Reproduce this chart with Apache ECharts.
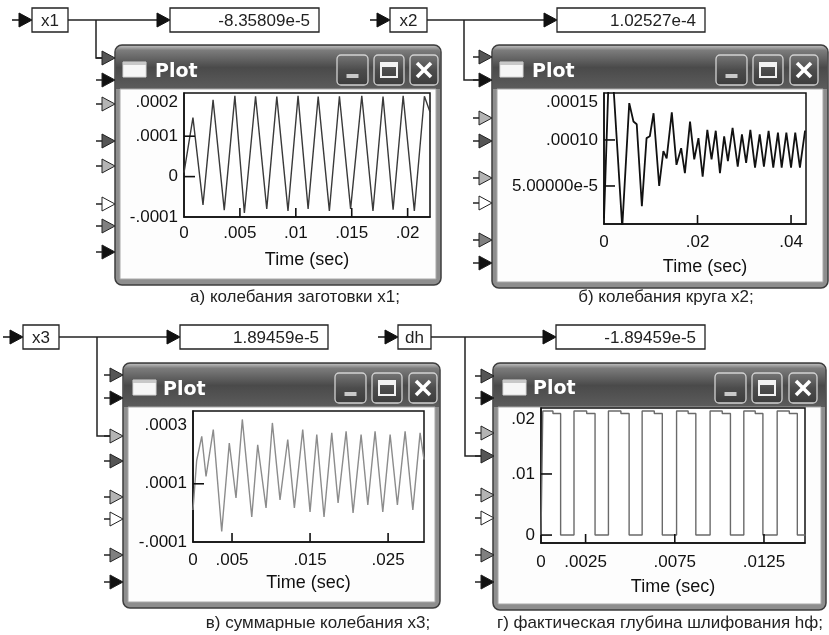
<!DOCTYPE html>
<html><head><meta charset="utf-8">
<script src="https://cdn.jsdelivr.net/npm/echarts@6/dist/echarts.min.js"></script>
<style>html,body{margin:0;padding:0;background:#fff}#c{width:829px;height:635px}</style>
</head><body><div id="c"></div>
<script>
// ---------------- DATA ----------------
const x1Time = [0, 0.0008, 0.0017, 0.0026, 0.0036, 0.00455, 0.0054, 0.0064, 0.0074, 0.0083, 0.0093, 0.0102, 0.0111, 0.0120, 0.0130, 0.0139, 0.0149, 0.0159, 0.0169, 0.0178, 0.0187, 0.0196, 0.0206, 0.0215, 0.0220];
const x1Value = [0.00001, 0.000146, -0.00007, 0.00019, -0.000083, 0.0002, -0.00009, 0.000199, -0.00008, 0.000198, -0.000085, 0.0002, -0.00008, 0.000198, -0.000085, 0.000199, -0.00008, 0.0002, -0.000085, 0.000198, -0.000082, 0.0002, -0.000085, 0.000199, 0.00016];
const x2Time = [0, 0.0003, 0.0012, 0.0020, 0.0039, 0.0054, 0.0063, 0.0070, 0.0081, 0.0091, 0.0098, 0.0106, 0.0118, 0.0127, 0.0134, 0.0145, 0.0155, 0.0165, 0.0173, 0.0184, 0.0193, 0.0202, 0.0211, 0.0221, 0.0230, 0.0239, 0.0248, 0.0257, 0.0265, 0.0275, 0.0286, 0.0295, 0.0304, 0.0313, 0.0323, 0.0333, 0.0342, 0.0352, 0.0362, 0.0372, 0.0380, 0.0390, 0.0400, 0.0409, 0.0419, 0.0430];
const x2Value = [0.000015, 0.00006, 0.0002, 0.00016, 0.000005, 0.00014, 0.00012, 0.000117, 0.000028, 0.000102, 0.000104, 0.000129, 0.00005, 0.000088, 0.00008, 0.00013, 0.000073, 0.000091, 0.000064, 0.00012, 0.000079, 0.000102, 0.00006, 0.000111, 0.000079, 0.00011, 0.000064, 0.000104, 0.000077, 0.000113, 0.000071, 0.000106, 0.000075, 0.000111, 0.00007, 0.000106, 0.000071, 0.00011, 0.00007, 0.000108, 0.00007, 0.000108, 0.00007, 0.000108, 0.00007, 0.00011];
const x3Time = [0, 0.00047, 0.00112, 0.00167, 0.0026, 0.00368, 0.00465, 0.00551, 0.00632, 0.00753, 0.00829, 0.00936, 0.01017, 0.01115, 0.01214, 0.01299, 0.01406, 0.0150, 0.01586, 0.01679, 0.01778, 0.01859, 0.01962, 0.02051, 0.02154, 0.0224, 0.02333, 0.02432, 0.02526, 0.02619, 0.02718, 0.02817, 0.0291, 0.0296];
const x3Value = [0.00001, 0.00018, 0.000263, 0.000125, 0.000286, -0.000064, 0.00024, 0.0000517, 0.000321, -0.000014, 0.000234, 0.0000172, 0.000309, 0.0000448, 0.000252, 0.0000172, 0.000286, 0.0000034, 0.000269, -0.000014, 0.000275, 0.0000345, 0.00028, 0.0, 0.000269, 0.0000276, 0.00028, 0.0000034, 0.000269, 0.0000276, 0.00028, 0.0000103, 0.000275, 0.000183];
const dhTime = [0,
  0.0001, 0.0001, 0.00067, 0.00067, 0.00110, 0.00110,
  0.00185, 0.00185, 0.00256, 0.00256, 0.00303, 0.00303,
  0.00378, 0.00378, 0.00448, 0.00448, 0.00494, 0.00494,
  0.00567, 0.00567, 0.00635, 0.00635, 0.00680, 0.00680,
  0.00760, 0.00760, 0.00825, 0.00825, 0.00868, 0.00868,
  0.00948, 0.00948, 0.01016, 0.01016, 0.01062, 0.01062,
  0.01137, 0.01137, 0.01201, 0.01201, 0.01244, 0.01244,
  0.01324, 0.01324, 0.01392, 0.01392, 0.01437, 0.01437,
  0.01483];
const dhValue = [0,
  0, 0.0203, 0.0203, 0.0199, 0.0199, 0,
  0, 0.0203, 0.0203, 0.0199, 0.0199, 0,
  0, 0.0203, 0.0203, 0.0199, 0.0199, 0,
  0, 0.0203, 0.0203, 0.0199, 0.0199, 0,
  0, 0.0203, 0.0203, 0.0199, 0.0199, 0,
  0, 0.0203, 0.0203, 0.0199, 0.0199, 0,
  0, 0.0203, 0.0203, 0.0199, 0.0199, 0,
  0, 0.0203, 0.0203, 0.0199, 0.0199, 0,
  0];

const x1XTicks = [0, 0.005, 0.01, 0.015, 0.02];
const x1XLabels = ['0', '.005', '.01', '.015', '.02'];
const x1YTicks = [-0.0001, 0, 0.0001, 0.0002];
const x1YLabels = ['-.0001', '0', '.0001', '.0002'];
const x2XTicks = [0, 0.02, 0.04];
const x2XLabels = ['0', '.02', '.04'];
const x2YTicks = [0.00005, 0.0001, 0.00015];
const x2YLabels = ['5.00000e-5', '.00010', '.00015'];
const x3XTicks = [0, 0.005, 0.015, 0.025];
const x3XLabels = ['0', '.005', '.015', '.025'];
const x3YTicks = [-0.0001, 0.0001, 0.0003];
const x3YLabels = ['-.0001', '.0001', '.0003'];
const dhXTicks = [0, 0.0025, 0.0075, 0.0125];
const dhXLabels = ['0', '.0025', '.0075', '.0125'];
const dhYTicks = [0, 0.01, 0.02];
const dhYLabels = ['0', '.01', '.02'];

const signalNames = ['x1', 'x2', 'x3', 'dh'];
const readouts = ['-8.35809e-5', '1.02527e-4', '1.89459e-5', '-1.89459e-5'];
const captions = ['а) колебания заготовки x1;', 'б) колебания круга x2;', 'в) суммарные колебания x3;', 'г) фактическая глубина шлифования hф;'];

// ---------------- LAYOUT ----------------
const FONT = "'Liberation Sans', Arial, sans-serif";
const panels = [
  { time: x1Time, value: x1Value, xT: x1XTicks, xL: x1XLabels, yT: x1YTicks, yL: x1YLabels,
    xMarks: [0.005, 0.01, 0.015, 0.02], yMarks: [0, 0.0001], xMax: 0.022, yMin: -0.0001, yMax: 0.000207,
    grid: { left: 184, top: 93, width: 246, height: 124 }, color: '#3a3a3a', lw: 1.4, xMargin: 16, nameGap: 43, dn: [0.0002], dnPad: 13 },
  { time: x2Time, value: x2Value, xT: x2XTicks, xL: x2XLabels, yT: x2YTicks, yL: x2YLabels,
    xMarks: [0.02, 0.04], yMarks: [0.00005, 0.0001], xMax: 0.0432, yMin: 0.0000087, yMax: 0.000151,
    grid: { left: 604, top: 93, width: 202, height: 131 }, color: '#111', lw: 1.8, xMargin: 18, nameGap: 43, dn: [0.00015], dnPad: 17 },
  { time: x3Time, value: x3Value, xT: x3XTicks, xL: x3XLabels, yT: x3YTicks, yL: x3YLabels,
    xMarks: [0.005, 0.015, 0.025], yMarks: [0.0001], xMax: 0.0296, yMin: -0.0001, yMax: 0.00035,
    grid: { left: 193, top: 411, width: 231, height: 131 }, color: '#8c8c8c', lw: 1.4, xMargin: 18, nameGap: 41, dn: [], dnPad: 0 },
  { time: dhTime, value: dhValue, xT: dhXTicks, xL: dhXLabels, yT: dhYTicks, yL: dhYLabels,
    xMarks: [0.0025, 0.0075, 0.0125], yMarks: [0, 0.01], xMax: 0.0148, yMin: -0.0013, yMax: 0.0208,
    grid: { left: 541, top: 408, width: 264, height: 135 }, color: '#6a6a6a', lw: 1.4, xMargin: 19, nameGap: 44, dn: [0.02], dnPad: 13 }
];

function lookup(ticks, labels, v) {
  for (let i = 0; i < ticks.length; i++) if (Math.abs(ticks[i] - v) < 1e-10) return labels[i];
  return '';
}

const grids = [], xAxes = [], yAxes = [], series = [];
panels.forEach((p, i) => {
  grids.push(Object.assign({ show: true, borderColor: '#111', borderWidth: 1.5, backgroundColor: '#fff' }, p.grid));
  xAxes.push({
    type: 'value', gridIndex: i, min: 0, max: p.xMax, position: 'bottom',
    axisLine: { show: true, onZero: false, lineStyle: { color: '#111', width: 1.5 } }, splitLine: { show: false },
    axisTick: { show: false },
    axisLabel: { customValues: p.xT, formatter: v => lookup(p.xT, p.xL, v), color: '#111', fontSize: 17, fontFamily: FONT, margin: p.xMargin, verticalAlign: 'middle' },
    name: 'Time (sec)', nameLocation: 'middle', nameGap: p.nameGap,
    nameTextStyle: { color: '#111', fontSize: 18, fontFamily: FONT, verticalAlign: 'middle' }
  });
  yAxes.push({
    type: 'value', gridIndex: i, min: p.yMin, max: p.yMax, position: 'left',
    axisLine: { show: true, onZero: false, lineStyle: { color: '#111', width: 1.5 } }, splitLine: { show: false },
    axisTick: { show: false },
    axisLabel: {
      customValues: p.yT, color: '#111', fontSize: 17, fontFamily: FONT, margin: 6,
      formatter: v => { const s = lookup(p.yT, p.yL, v); return p.dn.some(d => Math.abs(d - v) < 1e-10) ? '{dn|' + s + '}' : s; },
      rich: { dn: { padding: [p.dnPad, 0, 0, 0], fontSize: 17, fontFamily: FONT, color: '#111' } }
    }
  });
  series.push({
    type: 'line', xAxisIndex: i, yAxisIndex: i, clip: true,
    data: p.time.map((t, k) => [t, p.value[k]]),
    showSymbol: false, symbol: 'none', smooth: false,
    lineStyle: { color: p.color, width: p.lw }
  });
  // inside tick marks through the grid's own scales
  const tickData = p.xMarks.map(v => [v, p.yMin, 0]).concat(p.yMarks.map(v => [0, v, 1]));
  series.push({
    type: 'custom', xAxisIndex: i, yAxisIndex: i, silent: true, clip: false, z: 10,
    encode: { x: 0, y: 1 }, dimensions: ['x', 'y', 'k'],
    data: tickData,
    renderItem: function (params, api) {
      const pt = api.coord([api.value(0), api.value(1)]);
      const isY = api.value(2) === 1;
      return { type: 'line',
        shape: isY ? { x1: pt[0], y1: pt[1], x2: pt[0] + 11, y2: pt[1] } : { x1: pt[0], y1: pt[1], x2: pt[0], y2: pt[1] - 9 },
        style: { stroke: '#111', lineWidth: 1.6 } };
    }
  });
});

// ---------------- DECORATION ----------------
const G = [];
function add(el) { el.silent = true; if (el.z === undefined) el.z = -1; G.push(el); }
const LG = (stops) => new echarts.graphic.LinearGradient(0, 0, 0, 1, stops);

function drawWindow(w) {
  const { x, y, W, H } = w;
  add({ type: 'rect', shape: { x, y, width: W, height: H, r: 7 }, style: { fill: '#8e8e8e', stroke: '#3e3e3e', lineWidth: 1.5 } });
  add({ type: 'rect', shape: { x: x + 1, y: y + 1, width: W - 2, height: 43, r: [6, 6, 0, 0] },
    style: { fill: LG([{ offset: 0, color: '#b8b8b8' }, { offset: 0.1, color: '#7c7c7c' }, { offset: 0.5, color: '#4a4a4a' }, { offset: 1, color: '#5c5c5c' }]) } });
  add({ type: 'rect', shape: { x: x + 5, y: y + 44, width: W - 10, height: H - 50 }, style: { fill: '#fdfdfd', stroke: '#a8a8a8', lineWidth: 1 } });
  add({ type: 'rect', shape: { x: w.ix, y: y + 17, width: 23, height: 15 }, style: { fill: '#f6f6f6', stroke: '#d8d8d8', lineWidth: 1 } });
  add({ type: 'rect', shape: { x: w.ix, y: y + 17, width: 23, height: 3 }, style: { fill: '#c8c8c8' } });
  add({ type: 'text', style: { text: 'Plot', x: w.tx, y: y + w.ty, fill: '#fff', font: "bold 19px 'DejaVu Sans', sans-serif", verticalAlign: 'middle', align: 'left' } });
  const by = y + 10, bh = 30;
  const btns = [[w.bx[0], 31, 'min'], [w.bx[1], 30, 'max'], [w.bx[2], 28, 'close']];
  btns.forEach(([bx, bw, kind]) => {
    add({ type: 'rect', shape: { x: bx, y: by, width: bw, height: bh, r: 4 },
      style: { fill: LG([{ offset: 0, color: '#777' }, { offset: 0.5, color: '#4c4c4c' }, { offset: 1, color: '#3c3c3c' }]), stroke: '#d2d2d2', lineWidth: 1.3 } });
    const cx = bx + bw / 2, cy = by + bh / 2;
    if (kind === 'min') add({ type: 'rect', shape: { x: cx - 6, y: by + bh - 11, width: 12, height: 4 }, style: { fill: '#c9c9c9' } });
    if (kind === 'max') {
      add({ type: 'rect', shape: { x: cx - 8, y: cy - 7, width: 16, height: 14 }, style: { fill: 'none', stroke: '#f2f2f2', lineWidth: 2 } });
      add({ type: 'rect', shape: { x: cx - 8, y: cy - 7, width: 16, height: 4 }, style: { fill: '#f2f2f2' } });
    }
    if (kind === 'close') {
      add({ type: 'line', shape: { x1: cx - 7, y1: cy - 7, x2: cx + 7, y2: cy + 7 }, style: { stroke: '#fff', lineWidth: 3.5 } });
      add({ type: 'line', shape: { x1: cx + 7, y1: cy - 7, x2: cx - 7, y2: cy + 7 }, style: { stroke: '#fff', lineWidth: 3.5 } });
    }
  });
}

function port(tip, y, fill) {
  add({ type: 'line', shape: { x1: tip - 19, y1: y, x2: tip - 13, y2: y }, style: { stroke: '#222', lineWidth: 1.5 } });
  add({ type: 'polygon', shape: { points: [[tip - 13, y - 7], [tip, y], [tip - 13, y + 7]] }, style: { fill, stroke: '#222', lineWidth: 1 } });
}
function blackArrow(tip, y) {
  add({ type: 'polygon', shape: { points: [[tip - 13, y - 7], [tip, y], [tip - 13, y + 7]] }, style: { fill: '#111', stroke: '#111', lineWidth: 1 } });
}
function signalRow(r) {
  const y = r.y;
  add({ type: 'line', shape: { x1: r.boxL - 20, y1: y, x2: r.boxL - 12, y2: y }, style: { stroke: '#111', lineWidth: 1.5 } });
  blackArrow(r.boxL, y);
  add({ type: 'rect', shape: { x: r.boxL, y: y - 12, width: r.boxR - r.boxL, height: 24 }, style: { fill: '#fff', stroke: '#222', lineWidth: 1.3 } });
  add({ type: 'text', style: { text: r.name, x: (r.boxL + r.boxR) / 2, y: y + 1, fill: '#222', font: '17px ' + FONT, align: 'center', verticalAlign: 'middle' } });
  add({ type: 'line', shape: { x1: r.boxR, y1: y, x2: r.valL - 12, y2: y }, style: { stroke: '#222', lineWidth: 1.5 } });
  blackArrow(r.valL, y);
  add({ type: 'rect', shape: { x: r.valL, y: y - 12, width: r.valR - r.valL, height: 24 }, style: { fill: '#fff', stroke: '#222', lineWidth: 1.3 } });
  add({ type: 'text', style: { text: r.value, x: r.valR - 9, y: y + 1, fill: '#222', font: '17px ' + FONT, align: 'right', verticalAlign: 'middle' } });
  add({ type: 'polyline', shape: { points: [[r.brX, y], [r.brX, r.brY], [r.portTip - 13, r.brY]] }, style: { stroke: '#222', lineWidth: 1.5, fill: 'none' } });
}

const PC = { dark: '#555', black: '#111', light: '#b4b4b4', white: '#fff', mid: '#808080' };
const portColors = [PC.dark, PC.black, PC.light, PC.dark, PC.light, PC.white, PC.mid, PC.black];
const windows = [
  { x: 115, y: 45, W: 326, H: 240, ix: 123, tx: 155, ty: 27, bx: [337, 374, 410], tip: 115, ports: [58, 80, 104, 141, 166, 204, 226, 252] },
  { x: 492, y: 45, W: 336, H: 243, ix: 500, tx: 532, ty: 27, bx: [716, 753, 790], tip: 492, ports: [57, 80, 118, 141, 178, 203, 240, 263] },
  { x: 123, y: 363, W: 317, H: 245, ix: 133, tx: 163, ty: 27, bx: [335, 372, 409], tip: 123, ports: [375, 398, 436, 461, 497, 519, 555, 582] },
  { x: 493, y: 363, W: 333, H: 247, ix: 503, tx: 533, ty: 26, bx: [715, 752, 789], tip: 494, ports: [376, 398, 433, 456, 495, 518, 555, 582] }
];
const rows = [
  { boxL: 32, boxR: 68, valL: 170, valR: 319, y: 20, brX: 96, brY: 58, portTip: 115 },
  { boxL: 390, boxR: 427, valL: 557, valR: 705, y: 20, brX: 464, brY: 80, portTip: 492 },
  { boxL: 23, boxR: 59, valL: 180, valR: 328, y: 337, brX: 97, brY: 436, portTip: 123 },
  { boxL: 398, boxR: 431, valL: 556, valR: 705, y: 337, brX: 465, brY: 456, portTip: 494 }
];
const captionPos = [[295, 297], [666, 297], [318, 623], [660, 623]];

windows.forEach(drawWindow);
windows.forEach(w => w.ports.forEach((py, k) => port(w.tip, py, portColors[k])));
rows.forEach((r, i) => signalRow(Object.assign({ name: signalNames[i], value: readouts[i] }, r)));
captions.forEach((c, i) => add({ type: 'text', style: { text: c, x: captionPos[i][0], y: captionPos[i][1], fill: '#222', font: '17px ' + FONT, align: 'center', verticalAlign: 'middle' } }));

const chart = echarts.init(document.getElementById('c'), null, { renderer: 'canvas' });
chart.setOption({
  animation: false,
  backgroundColor: '#fff',
  grid: grids, xAxis: xAxes, yAxis: yAxes, series,
  graphic: { elements: G }
});
</script></body></html>
